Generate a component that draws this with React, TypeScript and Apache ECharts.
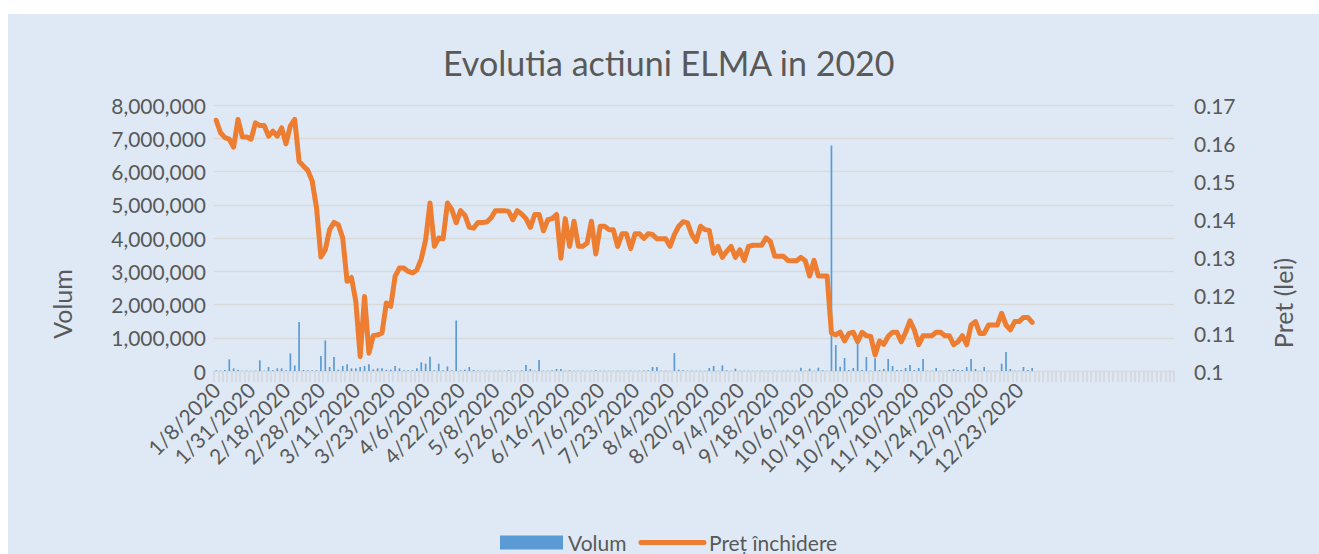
import React, { useEffect, useRef } from "react";
import * as echarts from "echarts";

// Visible date labels on the category axis (one every LABEL_STEP trading rows)
const dateLabels = [
  "1/8/2020", "1/31/2020", "2/18/2020", "2/28/2020", "3/11/2020", "3/23/2020",
  "4/6/2020", "4/22/2020", "5/8/2020", "5/26/2020", "6/16/2020", "7/6/2020",
  "7/23/2020", "8/4/2020", "8/20/2020", "9/4/2020", "9/18/2020", "10/6/2020",
  "10/19/2020", "10/29/2020", "11/10/2020", "11/24/2020", "12/9/2020", "12/23/2020",
];
const LABEL_STEP = 8;
const TOTAL_CATEGORIES = 220; // the source range includes empty trailing rows

// Daily traded volume (shares)
const volume = [
  20000, 10000, 30000, 350000, 80000, 40000, 10000, 10000, 10000, 10000,
  320000, 10000, 120000, 20000, 80000, 80000, 20000, 530000, 170000, 1470000,
  30000, 20000, 20000, 20000, 450000, 920000, 120000, 420000, 40000, 150000,
  200000, 80000, 80000, 120000, 150000, 200000, 50000, 80000, 80000, 40000,
  40000, 150000, 80000, 20000, 20000, 20000, 80000, 260000, 220000, 430000,
  20000, 220000, 20000, 140000, 20000, 1520000, 20000, 40000, 120000, 30000,
  15000, 10000, 10000, 10000, 10000, 10000, 10000, 25000, 10000, 10000,
  20000, 180000, 60000, 10000, 330000, 10000, 10000, 20000, 60000, 60000,
  10000, 20000, 10000, 10000, 10000, 10000, 10000, 25000, 10000, 10000,
  10000, 10000, 10000, 10000, 10000, 10000, 10000, 10000, 15000, 20000,
  120000, 120000, 10000, 10000, 10000, 540000, 40000, 20000, 10000, 10000,
  10000, 10000, 10000, 90000, 150000, 10000, 170000, 20000, 10000, 70000,
  10000, 10000, 10000, 10000, 10000, 10000, 10000, 10000, 10000, 10000,
  10000, 10000, 10000, 10000, 100000, 10000, 70000, 10000, 100000, 20000,
  10000, 6780000, 780000, 130000, 390000, 30000, 90000, 830000, 30000, 420000,
  10000, 380000, 30000, 60000, 360000, 150000, 30000, 30000, 90000, 180000,
  30000, 90000, 360000, 10000, 10000, 90000, 10000, 10000, 30000, 60000,
  30000, 30000, 120000, 360000, 60000, 10000, 120000, 10000, 10000, 10000,
  220000, 570000, 60000, 10000, 10000, 120000, 30000, 90000,
];

// Closing price (lei)
const closePrice = [
  0.166, 0.1627, 0.1614, 0.161, 0.1589, 0.1662, 0.1616, 0.1616, 0.161, 0.1653,
  0.1646, 0.1646, 0.1618, 0.1631, 0.1618, 0.164, 0.1598, 0.1645, 0.1662, 0.1552,
  0.1539, 0.1528, 0.15, 0.1429, 0.13, 0.1319, 0.1372, 0.1391, 0.1385, 0.135,
  0.1236, 0.1246, 0.1183, 0.1038, 0.1196, 0.1047, 0.1093, 0.1095, 0.11, 0.1179,
  0.117, 0.1249, 0.1271, 0.1271, 0.1262, 0.1258, 0.1266, 0.1295, 0.1345, 0.1442,
  0.1328, 0.135, 0.1348, 0.1442, 0.1425, 0.139, 0.1422, 0.141, 0.1378, 0.1376,
  0.1391, 0.1391, 0.1392, 0.1403, 0.1422, 0.1422, 0.1422, 0.142, 0.1398, 0.1422,
  0.1413, 0.1401, 0.1378, 0.1412, 0.1412, 0.1369, 0.1398, 0.1401, 0.1412, 0.1297,
  0.1401, 0.1328, 0.1394, 0.1328, 0.1328, 0.1337, 0.1394, 0.1308, 0.1381, 0.1381,
  0.1372, 0.1372, 0.1328, 0.1361, 0.1361, 0.1322, 0.1361, 0.1361, 0.1349, 0.1361,
  0.1359, 0.1348, 0.1348, 0.1348, 0.1328, 0.1359, 0.1381, 0.1393, 0.139, 0.1359,
  0.1341, 0.1381, 0.1372, 0.137, 0.131, 0.1328, 0.1299, 0.1315, 0.1328, 0.1299,
  0.1319, 0.1291, 0.1328, 0.1331, 0.1331, 0.1331, 0.135, 0.1341, 0.1302, 0.1302,
  0.1302, 0.1291, 0.129, 0.129, 0.1299, 0.129, 0.125, 0.1291, 0.125, 0.125,
  0.125, 0.11, 0.1095, 0.1102, 0.1079, 0.1099, 0.1102, 0.1077, 0.1102, 0.1093,
  0.1091, 0.1042, 0.1079, 0.107, 0.1091, 0.1102, 0.1102, 0.1077, 0.1102, 0.1132,
  0.1108, 0.1069, 0.1093, 0.1093, 0.1093, 0.1102, 0.1102, 0.1093, 0.1093, 0.1069,
  0.1077, 0.1093, 0.1069, 0.1121, 0.113, 0.1099, 0.1099, 0.1121, 0.1121, 0.1121,
  0.1152, 0.1121, 0.1108, 0.113, 0.113, 0.1141, 0.1141, 0.1128,
];

const volumeAxis = { min: 0, max: 8000000, step: 1000000 };
const priceAxis = { min: 0.1, max: 0.17, step: 0.01 };

const TEXT = "#595959";
const FONT = "Lato";
const BG = "#dee9f5";

export default function App() {
  const ref = useRef<HTMLDivElement>(null);

  useEffect(() => {
    if (!ref.current) return;
    const chart = echarts.init(ref.current, null, { renderer: "svg" });
    const categories = Array.from({ length: TOTAL_CATEGORIES }, (_, i) =>
      i % LABEL_STEP === 0 && i / LABEL_STEP < dateLabels.length ? dateLabels[i / LABEL_STEP] : ""
    );

    chart.setOption({
      animation: false,
      backgroundColor: BG,
      textStyle: { fontFamily: FONT, color: TEXT },
      title: {
        text: "Evolutia actiuni ELMA in 2020",
        left: 430,
        top: 26,
        textStyle: { fontFamily: FONT, fontSize: 34, fontWeight: "normal", color: TEXT },
      },
      legend: {
        left: 487,
        top: 513,
        itemGap: 12,
        itemWidth: 63,
        itemHeight: 14,
        textStyle: { fontFamily: FONT, fontSize: 21, color: TEXT },
        lineStyle: { width: 5, cap: "round" },
        data: [
          { name: "Volum", icon: "rect" },
          { name: "Preț închidere", itemStyle: { opacity: 0 } },
        ],
      },
      graphic: [
        {
          type: "text",
          x: 62 - 8,
          y: 304 - 14,
          rotation: Math.PI / 2,
          style: {
            text: "Volum",
            fontFamily: FONT,
            fontSize: 25,
            fill: TEXT,
            align: "center",
            verticalAlign: "middle",
          },
        },
        {
          type: "text",
          x: 1283 - 8,
          y: 303 - 14,
          rotation: Math.PI / 2,
          style: {
            text: "Pret (lei)",
            fontFamily: FONT,
            fontSize: 25,
            fill: TEXT,
            align: "center",
            verticalAlign: "middle",
          },
        },
      ],
      grid: { left: 206, right: 145, top: 91, bottom: 183, containLabel: false },
      xAxis: {
        type: "category",
        data: categories,
        boundaryGap: true,
        axisLine: { show: true, lineStyle: { color: "#d9d9d9", width: 1 } },
        axisTick: { show: true, interval: 0, length: 11, lineStyle: { color: "#d2d6da", width: 1.5 } },
        axisLabel: {
          interval: 0,
          rotate: 45,
          margin: 15,
          fontSize: 21,
          fontFamily: FONT,
          color: TEXT,
        },
        splitLine: { show: false },
      },
      yAxis: [
        {
          type: "value",
          min: volumeAxis.min,
          max: volumeAxis.max,
          interval: volumeAxis.step,
          axisLine: { show: false },
          axisTick: { show: false },
          axisLabel: {
            margin: 8,
            fontSize: 21,
            fontFamily: FONT,
            color: TEXT,
            formatter: (v: number) => v.toLocaleString("en-US"),
          },
          splitLine: { show: true, lineStyle: { color: "#d9d9d9", width: 1.3 } },
        },
        {
          type: "value",
          min: priceAxis.min,
          max: priceAxis.max,
          interval: priceAxis.step,
          axisLine: { show: false },
          axisTick: { show: false },
          axisLabel: {
            margin: 20,
            fontSize: 21,
            fontFamily: FONT,
            color: TEXT,
            formatter: (v: number) => String(+v.toFixed(2)),
          },
          splitLine: { show: false },
        },
      ],
      series: [
        {
          name: "Volum",
          type: "bar",
          yAxisIndex: 0,
          data: volume,
          barWidth: 1.7,
          itemStyle: { color: "#5b9bd5" },
        },
        {
          name: "Preț închidere",
          type: "line",
          yAxisIndex: 1,
          data: closePrice,
          symbol: "none",
          showSymbol: false,
          z: 5,
          lineStyle: { color: "#ed7d31", width: 5, cap: "round", join: "round" },
          itemStyle: { color: "#ed7d31" },
        },
      ],
    });

    return () => chart.dispose();
  }, []);

  return (
    <div
      style={{
        position: "fixed",
        left: 8,
        top: 14,
        right: 0,
        bottom: 0,
        background: BG,
        overflow: "hidden",
      }}
    >
      <div ref={ref} style={{ width: 1311, height: 540 }} />
    </div>
  );
}
